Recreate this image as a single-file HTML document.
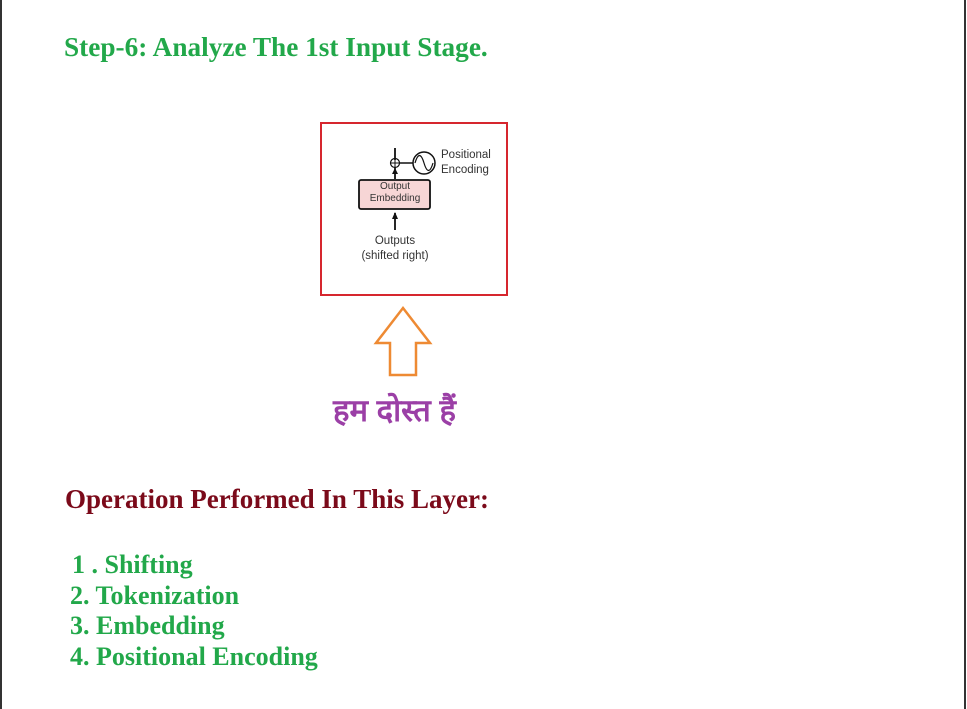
<!DOCTYPE html>
<html><head><style>
body{margin:0;width:967px;height:709px;background:#fff;position:relative;overflow:hidden;font-family:"Liberation Serif",serif}
.t{position:absolute;white-space:nowrap;font-weight:bold;transform-origin:0 0}
.s{position:absolute;white-space:nowrap;font-family:"Liberation Sans",sans-serif;color:#333}
</style></head><body>
<div style="position:absolute;left:0;top:0;width:2px;height:709px;background:#333"></div>
<div style="position:absolute;right:1px;top:0;width:2px;height:709px;background:#333"></div>
<div class="t" style="left:64px;top:32px;font-size:27px;color:#22a84a;transform:scaleX(1.01)">Step-6: Analyze The 1st Input Stage.</div>

<div style="position:absolute;left:320px;top:122px;width:184px;height:170px;border:2px solid #d6262e"></div>
<svg style="position:absolute;left:320px;top:120px" width="190" height="180">
 <line x1="75" y1="28" x2="75" y2="40" stroke="#111" stroke-width="1.8"/>
 <circle cx="75" cy="43" r="4.5" fill="none" stroke="#111" stroke-width="1.2"/>
 <line x1="70.5" y1="43" x2="79.5" y2="43" stroke="#111"/><line x1="75" y1="38.5" x2="75" y2="47.5" stroke="#111"/>
 <line x1="79" y1="43" x2="93" y2="43" stroke="#111" stroke-width="1.5"/>
 <circle cx="104" cy="43" r="11" fill="none" stroke="#111" stroke-width="1.5"/>
 <path d="M95 43 C98 33,101 33,104 43 S110 53,113 43" fill="none" stroke="#111" stroke-width="1.2"/>
 <line x1="75" y1="47" x2="75" y2="59" stroke="#111" stroke-width="1.8"/>
 <polygon points="72,54 78,54 75,48" fill="#111"/>
 <rect x="39" y="60" width="71" height="29" rx="2" fill="#f7d6d6" stroke="#111" stroke-width="1.8"/>
 <line x1="75" y1="110" x2="75" y2="93" stroke="#111" stroke-width="1.8"/>
 <polygon points="72,99 78,99 75,92" fill="#111"/>
</svg>
<div class="s" style="left:441px;top:148px;font-size:11.5px;line-height:15px">Positional<br>Encoding</div>
<div class="s" style="left:359px;top:181px;width:72px;text-align:center;font-size:10px;line-height:12px">Output<br>Embedding</div>
<div class="s" style="left:345px;top:234px;width:100px;text-align:center;font-size:11.5px;line-height:15px">Outputs<br>(shifted right)</div>

<svg style="position:absolute;left:370px;top:303px" width="66" height="78">
 <polygon points="33,5 60,40 46,40 46,72 20,72 20,40 6,40" fill="none" stroke="#ee8a33" stroke-width="2.5" stroke-linejoin="miter"/>
</svg>
<div class="t" style="left:333px;top:389px;font-size:31px;color:#9b3fa6;font-family:'Liberation Sans','Noto Sans CJK SC',sans-serif;font-weight:bold">हम दोस्त हैं</div>

<div class="t" style="left:65px;top:484px;font-size:27px;color:#7b0a1a">Operation Performed In This Layer:</div>
<div class="t" style="left:70px;top:550px;font-size:26px;line-height:30.5px;color:#22a84a"><span style="padding-left:2px">1 . Shifting</span><br>2. Tokenization<br>3. Embedding<br>4. Positional Encoding</div>
</body></html>
